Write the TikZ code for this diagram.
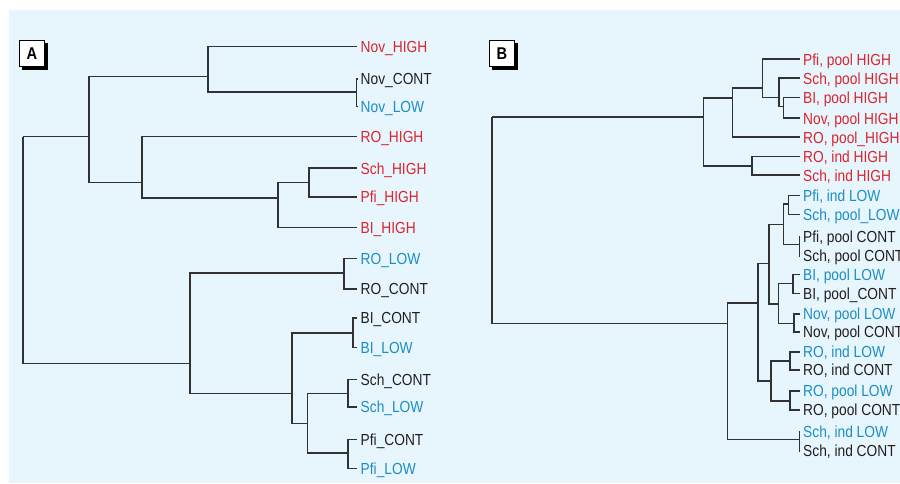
\documentclass[tikz,border=0pt]{standalone}
\usepackage{xcolor}
\usepackage{fontspec}
\usepackage{tikz}
\usetikzlibrary{shadows}

\newfontfamily\lblfont{Liberation Sans}[FakeStretch=0.86]

\definecolor{panelbg}{RGB}{231,245,253}
\definecolor{hired}{RGB}{218,37,47}
\definecolor{loblue}{RGB}{28,142,196}
\definecolor{ctblack}{RGB}{35,31,32}
\definecolor{treegray}{RGB}{50,50,50}

\begin{document}
\begin{tikzpicture}[x=1pt, y=-1pt,
    leaf/.style={anchor=west, inner xsep=3.5pt, inner ysep=0pt, text height=11.5pt, text depth=0pt,
        font=\lblfont\fontsize{16}{18}\selectfont},
    hi/.style={leaf, text=hired},
    lo/.style={leaf, text=loblue},
    ct/.style={leaf, text=ctblack},
    branch/.style={draw=treegray, line width=1.6pt},
    tagbox/.style={rectangle, draw=black, line width=0.8pt, fill=white, minimum width=25.7pt, minimum height=26.7pt,
        inner sep=0pt, font=\lblfont\bfseries\fontsize{17}{17}\selectfont,
        drop shadow={shadow xshift=3pt, shadow yshift=-3pt, fill=black, opacity=1}}]

    \useasboundingbox (0,0) rectangle (900,484);
    \fill[panelbg] (9,10) rectangle (900,483);

    % Panel tags
    \node[tagbox] (tagA) at (31.8,53.3) {A};
    \node[tagbox] (tagB) at (501.8,53.3) {B};

    % Panel A leaves
    \node[hi] (novH) at (357,46.7) {Nov\_HIGH};
    \node[ct] (novC) at (357,79) {Nov\_CONT};
    \node[lo] (novL) at (357,106.5) {Nov\_LOW};
    \node[hi] (roH) at (357,136.7) {RO\_HIGH};
    \node[hi] (schH) at (357,168.3) {Sch\_HIGH};
    \node[hi] (pfiH) at (357,196.7) {Pfi\_HIGH};
    \node[hi] (biH) at (357,227.3) {BI\_HIGH};
    \node[lo] (roL) at (357,258.3) {RO\_LOW};
    \node[ct] (roC) at (357,288.7) {RO\_CONT};
    \node[ct] (biC) at (357,317.7) {BI\_CONT};
    \node[lo] (biL) at (357,347.5) {BI\_LOW};
    \node[ct] (schC) at (357,379.3) {Sch\_CONT};
    \node[lo] (schL) at (357,406.7) {Sch\_LOW};
    \node[ct] (pfiC) at (357,439.3) {Pfi\_CONT};
    \node[lo] (pfiL) at (357,468.3) {Pfi\_LOW};

    % Panel A joins
    \coordinate (rootA) at (22.7,136.7);
    \coordinate (hiA) at (89,136.7);
    \coordinate (novA) at (208,76.7);
    \coordinate (novCL) at (356.5,92);
    \coordinate (hgA) at (142,182.7);
    \coordinate (sbA) at (277.7,197.7);
    \coordinate (spA) at (309,182.7);
    \coordinate (loA) at (190,363.3);
    \coordinate (roA) at (344,272.7);
    \coordinate (bspA) at (291.7,393.3);
    \coordinate (biA) at (352.7,332.7);
    \coordinate (splA) at (307.3,423.3);
    \coordinate (schA) at (347.7,393.3);
    \coordinate (pfiA) at (347.7,452.7);

    \foreach \p/\c in {rootA/hiA, rootA/loA, hiA/novA, hiA/hgA, novA/novH, novA/novCL,
        novCL/novC, novCL/novL, hgA/roH, hgA/sbA, sbA/spA, sbA/biH, spA/schH, spA/pfiH,
        loA/roA, loA/bspA, roA/roL, roA/roC, bspA/biA, bspA/splA, biA/biC, biA/biL,
        splA/schA, splA/pfiA, schA/schC, schA/schL, pfiA/pfiC, pfiA/pfiL}
        \draw[branch] (\p) |- (\c);

    % Panel B leaves
    \node[hi] (bPfiPH) at (799.5,59.3) {Pfi, pool HIGH};
    \node[hi] (bSchPH) at (799.5,78.3) {Sch, pool HIGH};
    \node[hi] (bBIPH) at (799.5,97.7) {BI, pool HIGH};
    \node[hi] (bNovPH) at (799.5,118.3) {Nov, pool HIGH};
    \node[hi] (bROpH) at (799.5,137.3) {RO, pool\_HIGH};
    \node[hi] (bROiH) at (799.5,156.7) {RO, ind HIGH};
    \node[hi] (bSchiH) at (799.5,175.3) {Sch, ind HIGH};
    \node[lo] (bPfiiL) at (799.5,195.7) {Pfi, ind LOW};
    \node[lo] (bSchpL) at (799.5,214.3) {Sch, pool\_LOW};
    \node[ct] (bPfipC) at (799.5,236.5) {Pfi, pool CONT};
    \node[ct] (bSchpC) at (799.5,256) {Sch, pool CONT};
    \node[lo] (bBIpL) at (799.5,274.3) {BI, pool LOW};
    \node[ct] (bBIpC) at (799.5,293.3) {BI, pool\_CONT};
    \node[lo] (bNovpL) at (799.5,314) {Nov, pool LOW};
    \node[ct] (bNovpC) at (799.5,331.7) {Nov, pool CONT};
    \node[lo] (bROiL) at (799.5,351.7) {RO, ind LOW};
    \node[ct] (bROiC) at (799.5,370) {RO, ind CONT};
    \node[lo] (bROpL) at (799.5,390.7) {RO, pool LOW};
    \node[ct] (bROpC) at (799.5,410) {RO, pool CONT};
    \node[lo] (bSchiL) at (799.5,432) {Sch, ind LOW};
    \node[ct] (bSchiC) at (799.5,451) {Sch, ind CONT};

    % Panel B joins
    \coordinate (rootB) at (492,117.3);
    \coordinate (hiB) at (703.3,117.3);
    \coordinate (h1B) at (732.3,98);
    \coordinate (h3B) at (762.3,88);
    \coordinate (h4B) at (779,97.7);
    \coordinate (h5B) at (783.3,106.7);
    \coordinate (h2B) at (751.7,166);
    \coordinate (loB) at (727.3,323.3);
    \coordinate (l1B) at (757.7,302.7);
    \coordinate (l2B) at (769,263.3);
    \coordinate (l3B) at (783.3,224.3);
    \coordinate (l4B) at (788.3,204);
    \coordinate (pscB) at (799.3,244.3);
    \coordinate (l5B) at (778.3,304);
    \coordinate (biB) at (792.7,283.3);
    \coordinate (novB) at (794,323.3);
    \coordinate (l6B) at (771,381);
    \coordinate (roiB) at (790,361);
    \coordinate (ropB) at (790,401);
    \coordinate (l9B) at (799.3,439.3);

    \foreach \p/\c in {rootB/hiB, rootB/loB, hiB/h1B, hiB/h2B, h1B/h3B, h1B/bROpH,
        h3B/bPfiPH, h3B/h4B, h4B/bSchPH, h4B/h5B, h5B/bBIPH, h5B/bNovPH,
        h2B/bROiH, h2B/bSchiH, loB/l1B, loB/l9B, l1B/l2B, l1B/l6B,
        l2B/l3B, l2B/l5B, l3B/l4B, l3B/pscB, l4B/bPfiiL, l4B/bSchpL,
        pscB/bPfipC, pscB/bSchpC, l5B/biB, l5B/novB, biB/bBIpL, biB/bBIpC,
        novB/bNovpL, novB/bNovpC, l6B/roiB, l6B/ropB, roiB/bROiL, roiB/bROiC,
        ropB/bROpL, ropB/bROpC, l9B/bSchiL, l9B/bSchiC}
        \draw[branch] (\p) |- (\c);

\end{tikzpicture}
\end{document}
